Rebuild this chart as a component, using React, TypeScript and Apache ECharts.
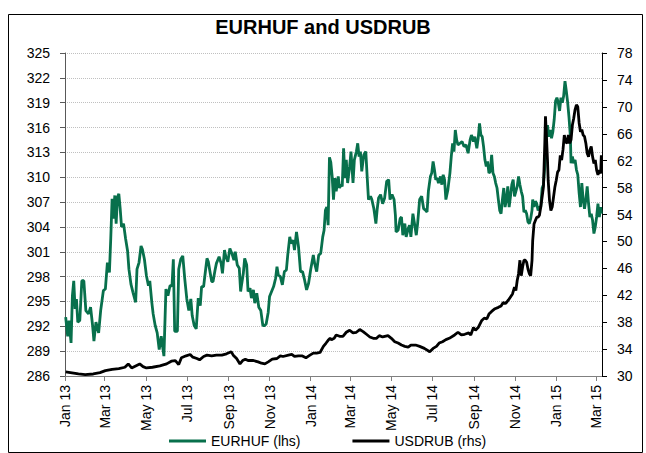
import React, { useEffect, useRef } from "react";
import * as echarts from "echarts";

const titleText = "EURHUF and USDRUB";
const seriesNames = ["EURHUF (lhs)", "USDRUB (rhs)"];

// x-axis tick dates and labels
const tickDates = ["2013-01-01", "2013-03-01", "2013-05-01", "2013-07-01", "2013-09-01", "2013-11-01", "2014-01-01", "2014-03-01", "2014-05-01", "2014-07-01", "2014-09-01", "2014-11-01", "2015-01-01", "2015-03-01"];
const tickLabels = ["Jan 13", "Mar 13", "May 13", "Jul 13", "Sep 13", "Nov 13", "Jan 14", "Mar 14", "May 14", "Jul 14", "Sep 14", "Nov 14", "Jan 15", "Mar 15"];
const xStart = "2013-01-01";
const xEnd = "2015-03-10";

// left axis ticks (EURHUF) and right axis ticks (USDRUB)
const leftTicks = [286, 289, 292, 295, 298, 301, 304, 307, 310, 313, 316, 319, 322, 325];
const rightTicks = [30, 34, 38, 42, 46, 50, 54, 58, 62, 66, 70, 74, 78];

// observation day (days since 2013-01-01) and value
const eurhufDay = [1, 4, 6, 9, 11, 13, 15, 17, 19, 22, 25, 28, 31, 35, 38, 41, 43, 46, 50, 53, 57, 60, 63, 66, 68, 70, 72, 74, 76, 78, 80, 82, 84, 87, 90, 93, 95, 98, 101, 105, 107, 110, 113, 115, 118, 121, 124, 126, 129, 131, 134, 137, 140, 143, 147, 150, 153, 156, 159, 161, 163, 167, 169, 172, 175, 178, 181, 184, 187, 189, 192, 195,
  198, 201, 203, 206, 208, 211, 213, 215, 218, 220, 223, 225, 229, 232, 234, 237, 239, 242, 245, 248, 251, 253, 256, 259, 261, 262, 265, 267, 270, 272, 275, 277, 280, 282, 285, 288, 291, 294, 297, 299, 302, 304, 307, 310, 313, 315, 317, 320, 323, 326, 329, 331, 334, 336, 339, 341, 344, 347, 350, 353, 356, 359, 362, 365, 369, 371, 374, 377, 380, 383, 385, 387, 389, 391,
  393, 395, 397, 399, 401, 403, 404, 406, 408, 410, 412, 414, 416, 418, 420, 423, 425, 428, 430, 433, 435, 437, 439, 441, 444, 447, 449, 451, 454, 456, 459, 462, 464, 466, 469, 472, 475, 478, 481, 483, 486, 489, 491, 492, 495, 498, 500, 502, 505, 507, 510, 512, 514, 517, 519, 522, 524, 527, 530, 533, 536, 538, 540, 543, 545, 547, 549, 551, 553, 555, 558, 560, 562, 564, 566, 569, 572, 574, 576, 578, 580, 582, 584, 587, 590, 593,
  596, 599, 602, 604, 607, 609, 612, 614, 616, 618, 620, 622, 624, 626, 628, 630, 632, 634, 636, 638, 640, 642, 644, 646, 648, 650, 652, 654, 656, 658, 660, 662, 664, 666, 668, 670, 672, 674, 676, 678, 680, 682, 684, 686, 688, 690, 692, 694, 695, 697, 699, 701, 703, 705, 707, 709, 711, 713, 715, 717, 719, 721, 723, 725, 727, 729, 731, 733, 735, 737, 739, 741, 743, 745, 747, 749, 751, 752, 754, 756, 758, 760, 762, 764, 766, 768, 770, 772, 774, 776, 778, 780, 782, 784, 786, 788, 790, 792, 794, 796, 797];
const eurhufValue = [293.1, 290.8, 292.7, 290.0, 295.7, 297.5, 294.1, 295.3, 292.5, 292.7, 297.5, 297.5, 293.9, 293.5, 294.3, 292.1, 290.2, 292.5, 291.2, 293.9, 296.3, 296.5, 299.7, 298.5, 302.6, 307.4, 305.0, 307.8, 304.4, 307.6, 308.0, 306.2, 304.0, 304.4, 302.6, 301.1, 298.9, 297.1, 296.1, 294.9, 298.9, 299.7, 301.7, 301.3, 300.1, 298.1, 296.9, 297.5, 294.9, 293.5, 292.1, 291.2, 289.2, 290.8, 288.4, 296.5, 295.7, 296.9, 296.9, 300.1, 291.4, 291.4, 298.9, 300.1, 300.5, 297.7, 295.3, 293.9, 295.3, 293.3, 292.1, 291.7,
  295.4, 294.5, 296.8, 296.8, 298.2, 300.2, 299.8, 298.8, 297.4, 297.4, 298.8, 299.6, 300.4, 299.6, 298.4, 301.2, 300.4, 299.8, 301.4, 300.8, 300.0, 301.0, 299.4, 299.0, 296.2, 296.8, 298.4, 300.2, 299.4, 296.2, 296.6, 295.4, 296.4, 294.8, 296.0, 294.3, 293.9, 292.1, 292.1, 292.3, 293.7, 295.6, 296.2, 296.8, 297.8, 299.2, 298.2, 298.0, 297.0, 298.6, 298.8, 300.6, 302.8, 302.0, 302.4, 301.2, 303.4, 301.6, 298.6, 298.6, 297.6, 296.4, 297.2, 298.8, 300.6, 299.6, 298.6, 300.6, 300.8, 302.8, 303.6, 306.0, 306.4, 304.2,
  312.4, 311.8, 310.1, 307.3, 309.9, 308.3, 308.9, 310.1, 308.7, 309.1, 308.9, 313.5, 309.9, 312.1, 309.3, 311.3, 313.1, 309.3, 312.1, 313.1, 314.1, 312.5, 313.1, 310.7, 312.7, 313.1, 310.1, 307.3, 307.7, 307.3, 306.2, 304.4, 306.2, 307.5, 307.9, 306.8, 307.5, 309.5, 309.7, 307.3, 307.9, 307.3, 305.4, 303.4, 303.6, 305.0, 305.2, 303.0, 304.4, 302.8, 303.8, 304.2, 302.8, 305.6, 304.6, 303.0, 304.4, 307.3, 307.7, 306.2, 306.0, 305.8, 308.3, 310.1, 310.5, 311.9, 310.9, 309.7, 309.9, 309.3, 310.1, 309.1, 310.3, 309.7, 307.3, 308.5, 310.5, 312.5, 314.1, 313.1, 315.7, 314.5, 313.9, 314.1, 314.3, 313.7,
  313.9, 312.9, 314.5, 315.1, 314.3, 314.9, 313.5, 314.7, 316.5, 315.1, 314.9, 313.7, 312.1, 311.3, 311.9, 310.5, 310.7, 312.7, 310.5, 310.1, 309.3, 308.7, 307.3, 306.0, 305.6, 307.3, 308.7, 306.4, 307.3, 308.9, 306.4, 307.7, 309.1, 309.7, 307.7, 308.3, 308.9, 310.1, 309.1, 308.3, 307.7, 305.8, 306.0, 305.6, 304.6, 304.4, 305.0, 306.0, 307.3, 306.4, 307.1, 306.8, 306.0, 306.4, 306.4, 308.7, 309.1, 311.3, 314.7, 316.3, 314.9, 315.7, 314.7, 315.5, 317.0, 319.2, 319.6, 319.0, 318.0, 319.6, 319.0, 319.8, 321.6, 320.4, 319.0, 317.2, 314.9, 311.7, 312.5, 311.7, 312.1, 310.9, 310.3, 308.1, 306.4, 309.3, 307.3, 306.2, 307.3, 308.9, 306.8, 305.2, 305.6, 304.8, 303.2, 304.0, 305.2, 306.8, 305.2, 306.4, 305.6];

const usdrubDay = [1, 8, 20, 30, 42, 52, 60, 70, 80, 89, 94, 99, 105, 111, 116, 121, 130, 141, 151, 158, 164, 169, 173, 180, 186, 190, 196,
  200, 206, 211, 218, 225, 233, 240, 247, 250, 255, 260, 264, 268, 272, 280, 287, 292, 297, 302, 308, 315, 320, 324, 332, 337, 341, 347, 352, 358, 364, 369, 374, 379, 384, 388, 391, 394, 396, 400,
  403, 408, 413, 418, 423, 428, 433, 438, 443, 448, 453, 458, 463, 467, 472, 480, 485, 490, 495, 500, 505, 510, 514, 521, 527, 534, 542, 547, 552, 556, 561, 566, 571, 579, 584, 589, 594, 600,
  603, 607, 610, 614, 619, 623, 627, 630, 634, 639, 644, 648, 651, 655, 659, 663, 665, 668, 670, 672, 674, 676, 678, 680, 682, 684, 686, 688, 690, 692, 694, 695, 697, 699, 701, 703, 705, 707, 709, 711, 713, 714, 715, 717, 718, 720, 722, 724, 726, 728, 730, 732, 734, 736, 738, 740, 742, 744, 746, 748, 750, 752, 754, 756, 758, 760, 762, 764, 766, 768, 770, 772, 774, 776, 778, 780, 782, 784, 786, 788, 790, 792, 794, 796, 797];
const usdrubValue = [30.6, 30.5, 30.3, 30.2, 30.3, 30.5, 30.8, 31.0, 31.1, 31.3, 31.8, 31.2, 31.5, 31.8, 31.4, 31.2, 31.3, 31.5, 31.8, 32.2, 32.3, 31.7, 32.7, 33.0, 33.2, 32.8, 32.6,
  32.4, 32.9, 33.1, 33.0, 33.1, 33.1, 33.3, 33.6, 33.1, 32.6, 31.8, 32.3, 32.5, 32.3, 32.3, 32.1, 31.9, 31.8, 32.1, 32.5, 32.6, 33.0, 32.9, 33.1, 33.2, 32.9, 33.0, 33.0, 32.7, 33.1, 33.4, 33.4, 33.5, 34.4, 34.9, 35.3, 35.6, 35.4, 35.6,
  36.1, 35.9, 35.9, 36.5, 36.8, 36.4, 36.5, 36.9, 36.6, 36.2, 35.8, 35.6, 35.6, 36.0, 35.8, 36.0, 35.6, 35.1, 34.9, 34.6, 34.4, 34.3, 34.6, 34.6, 34.4, 34.1, 33.6, 34.1, 34.4, 34.9, 35.1, 35.4, 35.6, 36.1, 36.5, 36.1, 36.2, 36.4,
  36.1, 37.2, 36.8, 37.2, 38.2, 38.6, 38.5, 39.2, 39.6, 40.0, 40.2, 40.4, 40.9, 40.8, 41.3, 41.9, 42.2, 43.2, 42.7, 44.2, 45.2, 47.2, 44.9, 46.2, 47.2, 47.2, 46.9, 45.9, 45.2, 44.9, 47.2, 50.1, 52.6, 53.1, 53.6, 53.6, 53.9, 55.1, 56.6, 58.1, 64.6, 68.6, 66.6, 62.1, 59.1, 56.1, 54.6, 55.1, 56.6, 58.1, 59.1, 60.3, 60.6, 62.8, 62.1, 63.6, 65.8, 64.8, 64.6, 65.8, 64.6, 65.1, 67.3, 68.3, 69.6, 70.3, 70.0, 67.6, 66.3, 66.6, 65.8, 65.6, 64.6, 63.1, 62.6, 63.6, 64.1, 62.6, 61.6, 62.1, 60.6, 59.9, 60.6, 60.1, 62.8];

const DAY = 86400000;
const toTime = (s: string) => {
  const [y, m, d] = s.split("-").map(Number);
  return Date.UTC(y, m - 1, d);
};
const base = toTime(xStart);
const pairs = (days: number[], vals: number[]) => days.map((d, i) => [base + d * DAY, vals[i]]);

const FONT = "Liberation Sans, Arial, sans-serif";

export default function App() {
  const ref = useRef<HTMLDivElement>(null);
  useEffect(() => {
    if (!ref.current) return;
    const chart = echarts.init(ref.current, undefined, { renderer: "svg" });
    const tickTimes = tickDates.map(toTime);
    const labelFor = (v: number) => {
      const i = tickTimes.findIndex((t) => Math.abs(t - v) < DAY / 2);
      return i >= 0 ? tickLabels[i] : "";
    };
    const option: any = {
      animation: false,
      textStyle: { fontFamily: FONT },
      title: {
        text: titleText,
        left: "center",
        top: 12,
        textStyle: { fontFamily: FONT, fontSize: 20, fontWeight: "bold", color: "#000" },
      },
      grid: { left: 65, right: 44, top: 53, bottom: 77, containLabel: false },
      legend: {
        data: seriesNames,
        left: 164,
        top: 429,
        icon: "rect",
        itemWidth: 37,
        itemHeight: 3,
        itemGap: 52,
        textStyle: { fontFamily: FONT, fontSize: 14, color: "#000" },
      },
      xAxis: {
        type: "value",
        min: base,
        max: toTime(xEnd),
        axisLine: { show: true, lineStyle: { color: "#808080", width: 1 } },
        axisTick: { show: true, customValues: tickTimes, length: 5, lineStyle: { color: "#808080" } },
        axisLabel: {
          customValues: tickTimes,
          rotate: 90,
          margin: 9,
          fontSize: 14,
          color: "#000",
          fontFamily: FONT,
          formatter: (v: number) => labelFor(v),
        },
        splitLine: { show: false },
      },
      yAxis: [
        {
          type: "value",
          min: leftTicks[0],
          max: leftTicks[leftTicks.length - 1],
          position: "left",
          axisLine: { show: true, lineStyle: { color: "#595959", width: 1 } },
          axisTick: { show: true, customValues: leftTicks, length: 5, lineStyle: { color: "#595959" } },
          axisLabel: { customValues: leftTicks, margin: 15, fontSize: 14, color: "#000", fontFamily: FONT },
          splitLine: { show: true, lineStyle: { color: "#c0c0c0", type: "dotted", width: 1 } },
        },
        {
          type: "value",
          min: rightTicks[0],
          max: rightTicks[rightTicks.length - 1],
          position: "right",
          axisLine: { show: true, lineStyle: { color: "#000", width: 1 } },
          axisTick: { show: true, customValues: rightTicks, length: 5, lineStyle: { color: "#000" } },
          axisLabel: { customValues: rightTicks, margin: 15, fontSize: 14, color: "#000", fontFamily: FONT },
          splitLine: { show: false },
        },
      ],
      graphic: [
        {
          type: "rect",
          left: 6,
          top: 12,
          shape: { x: 0, y: 0, width: 634, height: 438 },
          style: { fill: "none", stroke: "#000", lineWidth: 1 },
          silent: true,
        },
      ],
      series: [
        {
          name: seriesNames[0],
          type: "line",
          yAxisIndex: 0,
          data: pairs(eurhufDay, eurhufValue),
          showSymbol: false,
          symbol: "none",
          color: "#08704c",
          lineStyle: { color: "#08704c", width: 2.8 },
          z: 2,
        },
        {
          name: seriesNames[1],
          type: "line",
          yAxisIndex: 1,
          data: pairs(usdrubDay, usdrubValue),
          showSymbol: false,
          symbol: "none",
          color: "#000",
          lineStyle: { color: "#000", width: 2.8 },
          z: 3,
        },
      ],
    };
    chart.setOption(option);
    return () => chart.dispose();
  }, []);
  return (
    <div
      ref={ref}
      style={{ position: "fixed", left: 0, top: 0, width: 646, height: 453, background: "#fff" }}
    />
  );
}
